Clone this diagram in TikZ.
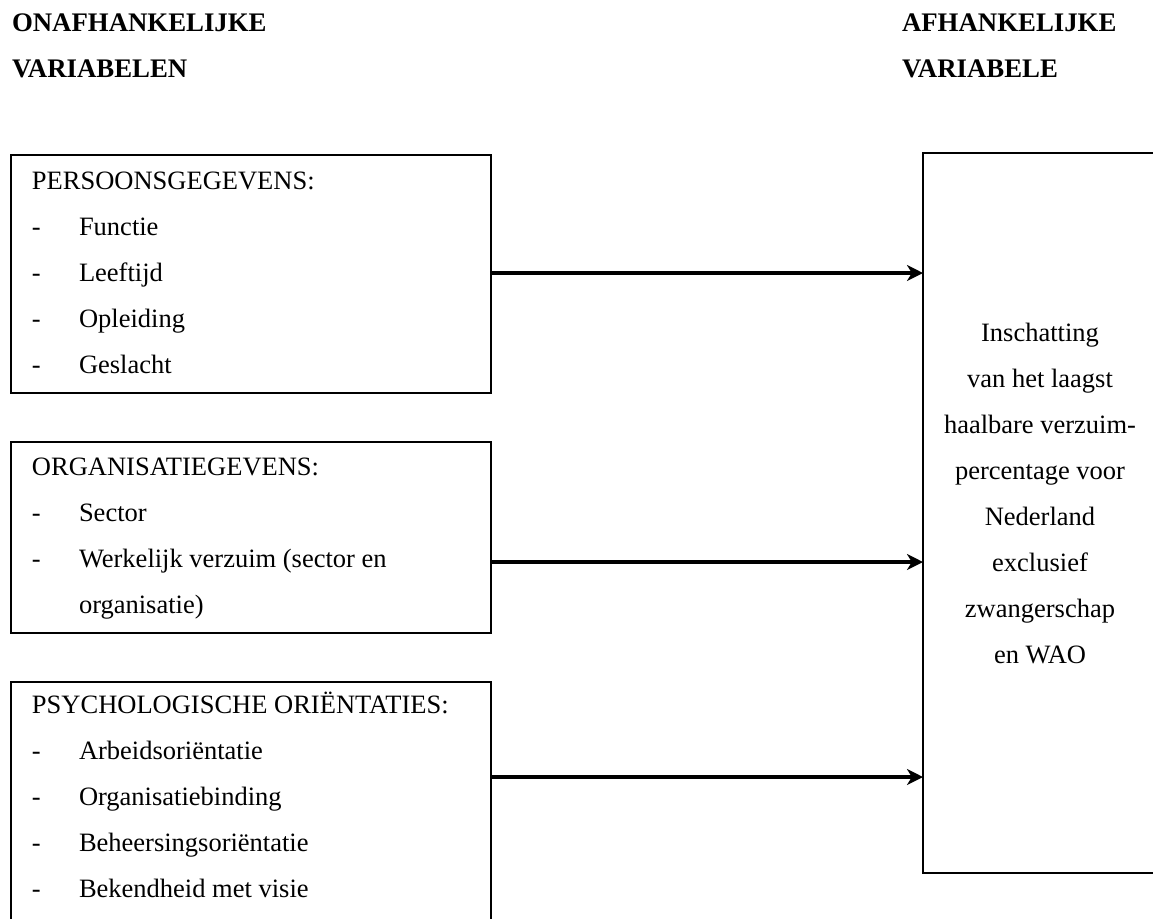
\documentclass[tikz,border=0pt]{standalone}
\usepackage{fontspec}
\setmainfont{Liberation Serif}
\usetikzlibrary{arrows.meta}
\tikzset{
  txt/.style={anchor=base west, inner sep=0pt, outer sep=0pt, font=\fontsize{13.25pt}{16pt}\selectfont},
  hdr/.style={txt, font=\fontsize{13.4pt}{16pt}\selectfont\bfseries},
  ctxt/.style={txt, anchor=base},
  varbox/.style={draw, line width=0.75pt, anchor=north west, inner sep=0pt, outer sep=0pt, minimum width=240pt},
  arr/.style={line width=1.9pt, -{Stealth[length=8pt,width=8pt,inset=2.4pt]}}
}
\begin{document}
\begin{tikzpicture}[x=0.5pt,y=-0.5pt]
\useasboundingbox (0,0) rectangle (1153,918);
\clip (0,0) rectangle (1153,918);
% headers
\node[hdr] (h1) at (12,31) {ONAFHANKELIJKE};
\node[hdr] (h2) at (12,77) {VARIABELEN};
\node[hdr] (h3) at (902,31) {AFHANKELIJKE};
\node[hdr] (h4) at (902,77) {VARIABELE};
% boxes
\node[varbox, minimum height=119pt] (pers) at (11,155) {};
\node[varbox, minimum height=95.5pt] (org) at (11,442) {};
\node[varbox, minimum height=130pt] (psy) at (11,682) {};
\node[varbox, minimum width=118pt, minimum height=360pt] (res) at (923,153) {};
% box 1 text
\node[txt] (p0) at (32,189) {PERSOONSGEGEVENS:};
\node[txt] (p1d) at (32,235) {-};
\node[txt] (p1) at (79,235) {Functie};
\node[txt] (p2d) at (32,281) {-};
\node[txt] (p2) at (79,281) {Leeftijd};
\node[txt] (p3d) at (32,327) {-};
\node[txt] (p3) at (79,327) {Opleiding};
\node[txt] (p4d) at (32,373) {-};
\node[txt] (p4) at (79,373) {Geslacht};
% box 2 text
\node[txt] (o0) at (32,475) {ORGANISATIEGEVENS:};
\node[txt] (o1d) at (32,521) {-};
\node[txt] (o1) at (79,521) {Sector};
\node[txt] (o2d) at (32,567) {-};
\node[txt] (o2) at (79,567) {Werkelijk verzuim (sector en};
\node[txt] (o3) at (79,613) {organisatie)};
% box 3 text
\node[txt] (s0) at (32,713) {PSYCHOLOGISCHE ORIËNTATIES:};
\node[txt] (s1d) at (32,759) {-};
\node[txt] (s1) at (79,759) {Arbeidsoriëntatie};
\node[txt] (s2d) at (32,805) {-};
\node[txt] (s2) at (79,805) {Organisatiebinding};
\node[txt] (s3d) at (32,851) {-};
\node[txt] (s3) at (79,851) {Beheersingsoriëntatie};
\node[txt] (s4d) at (32,897) {-};
\node[txt] (s4) at (79,897) {Bekendheid met visie};
% result text
\node[ctxt] (r1) at (1040,341) {Inschatting};
\node[ctxt] (r2) at (1040,387) {van het laagst};
\node[ctxt] (r3) at (1040,433) {haalbare verzuim-};
\node[ctxt] (r4) at (1040,479) {percentage voor};
\node[ctxt] (r5) at (1040,525) {Nederland};
\node[ctxt] (r6) at (1040,571) {exclusief};
\node[ctxt] (r7) at (1040,617) {zwangerschap};
\node[ctxt] (r8) at (1040,663) {en WAO};
% arrows
\coordinate (y1) at (0,273);
\coordinate (y2) at (0,562);
\coordinate (y3) at (0,777);
\draw[arr] (pers.east |- y1) -- (res.west |- y1);
\draw[arr] (org.east |- y2) -- (res.west |- y2);
\draw[arr] (psy.east |- y3) -- (res.west |- y3);
\end{tikzpicture}
\end{document}
